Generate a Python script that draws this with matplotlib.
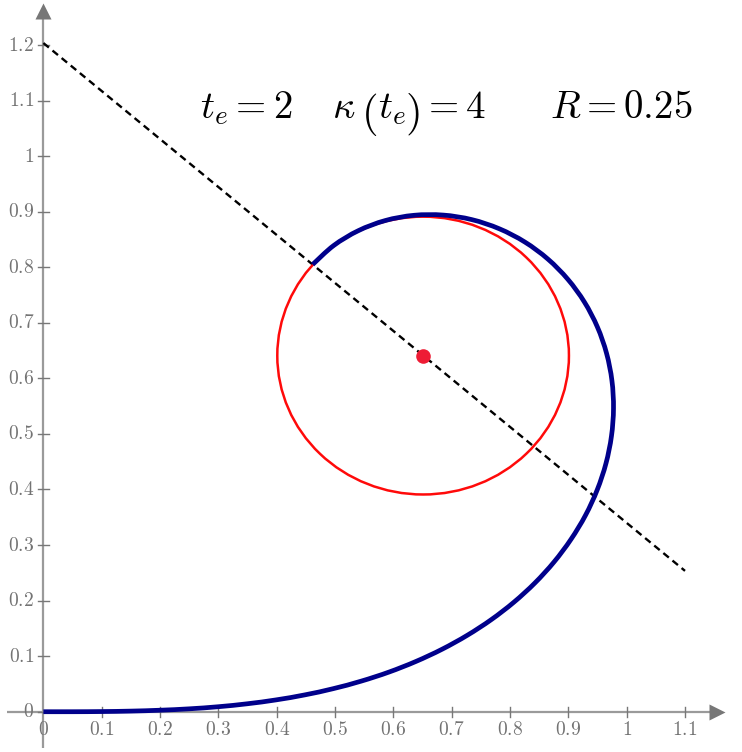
import matplotlib
matplotlib.use("Agg")
import numpy as np
import matplotlib.pyplot as plt
from matplotlib.patches import Circle, PathPatch
from matplotlib.path import Path

plt.rcParams['mathtext.fontset'] = 'cm'

# Curve points (x, y)
curve_x = [0.0, 0.05, 0.1, 0.15, 0.2, 0.2499, 0.3, 0.3495, 0.399, 0.4482,
           0.4969, 0.545, 0.5923, 0.6385, 0.6834, 0.7266, 0.7678, 0.8067,
           0.8427, 0.8755, 0.9045, 0.9294, 0.9495, 0.9645, 0.9739, 0.9774,
           0.9747, 0.9655, 0.9498, 0.9276, 0.8992, 0.8650, 0.8255, 0.7817,
           0.7345, 0.6853, 0.6354, 0.5863, 0.5399, 0.4977, 0.4615]
curve_y = [0.0, 0.0000, 0.0003, 0.0011, 0.0027, 0.0052, 0.009, 0.0143, 0.0213, 0.0303,
           0.0415, 0.0551, 0.0713, 0.0904, 0.1124, 0.1375, 0.1657, 0.1972,
           0.2318, 0.2696, 0.3103, 0.3536, 0.3994, 0.4470, 0.4961, 0.5460,
           0.5959, 0.6450, 0.6924, 0.7372, 0.7782, 0.8146, 0.8453, 0.8692,
           0.8857, 0.8939, 0.8935, 0.8841, 0.8658, 0.8391, 0.8048]

center = (0.651, 0.641)
radius = 0.25
normal_x = [0.0, 1.1]
normal_y = [1.2035, 0.2535]

xticks = [0, 0.1, 0.2, 0.3, 0.4, 0.5, 0.6, 0.7, 0.8, 0.9, 1, 1.1]
yticks = [0, 0.1, 0.2, 0.3, 0.4, 0.5, 0.6, 0.7, 0.8, 0.9, 1, 1.1, 1.2]

W, H = 742, 752
fig = plt.figure(figsize=(W / 100, H / 100), dpi=100)
ax = fig.add_axes([0, 0, 1, 1])
ax.set_xlim(-0.0744, 1.1977)
ax.set_ylim(-0.0725, 1.281)
ax.axis('off')

axis_col = '#9a9a9a'
tick_col = '#777777'
lab_col = '#737373'
# axes lines with arrows
ax.plot([-0.062, 1.16], [0, 0], color=axis_col, lw=1.6, zorder=1, solid_capstyle='butt')
ax.plot([0, 0], [-0.065, 1.26], color=axis_col, lw=1.6, zorder=1, solid_capstyle='butt')
ax.plot([1.155], [0], marker='>', markersize=11, color='#777777', mec='none', zorder=1)
ax.plot([0], [1.262], marker='^', markersize=11, color='#777777', mec='none', zorder=1)

# ticks
tl_x = 0.009
tl_y = 0.009
for xv in xticks:
    if xv != 0:
        ax.plot([xv, xv], [-tl_y, tl_y], color=tick_col, lw=1.0, zorder=1)
    ax.text(xv, -0.032, '$%s$' % ('%g' % xv), ha='center', va='center',
            fontsize=14, color=lab_col)
for yv in yticks:
    if yv != 0:
        ax.plot([-tl_x, tl_x], [yv, yv], color=tick_col, lw=1.0, zorder=1)
    ax.text(-0.016, yv, '$%s$' % ('%g' % yv), ha='right', va='center',
            fontsize=14, color=lab_col)
ax.plot([-tl_x, 0], [0, 0], color=tick_col, lw=1.0, zorder=1)

# normal line
ax.plot(normal_x, normal_y, color='black', lw=1.7, dashes=(3, 2), zorder=2)
# osculating circle
ax.add_patch(Circle(center, radius, fill=False, edgecolor='#ff0a0a', lw=1.8, zorder=3))

# curve: smooth line through the read points
P = np.column_stack([curve_x, curve_y])
verts = [P[0]]
codes = [Path.MOVETO]
n = len(P)
for i in range(n - 1):
    p0 = P[i - 1] if i > 0 else P[i]
    p3 = P[i + 2] if i + 2 < n else P[i + 1]
    c1 = P[i] + (P[i + 1] - p0) / 6.0
    c2 = P[i + 1] - (p3 - P[i]) / 6.0
    verts += [c1, c2, P[i + 1]]
    codes += [Path.CURVE4] * 3
ax.add_patch(PathPatch(Path(verts, codes), fill=False, edgecolor='#00008b', lw=3.4,
                       capstyle='butt', joinstyle='round', zorder=4))

# center point
ax.plot([center[0]], [center[1]], 'o', markersize=10.5, color='#ee1c35', mec='none', zorder=5)


def put(px, py, s, size=28):
    fig.text(px / W, 1 - py / H, s, fontsize=size, ha='left', va='baseline')


base = 118
put(200, base, r'$t_e=2$')
put(332, base, r'$\kappa$')
put(361, 125, r'$($', 31)
put(378, base, r'$t_e$')
put(405, 125, r'$)$', 31)
put(422.5, base, r'$=4$')
put(550, base, r'$R=0.25$')

fig.savefig('out.png', dpi=100)
